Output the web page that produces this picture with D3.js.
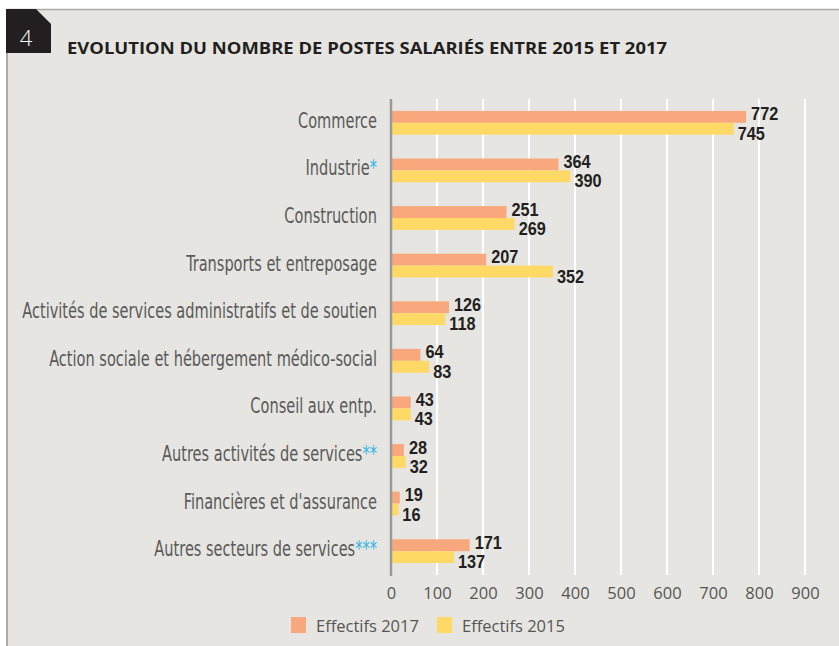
<!DOCTYPE html>
<html lang="fr">
<head>
<meta charset="utf-8">
<title>Evolution du nombre de postes salariés</title>
<script src="https://cdn.jsdelivr.net/npm/d3@7"></script>
<style>
  body { margin: 0; background: #fff; }
  .cat { font-family: "Liberation Sans Narrow", "DejaVu Sans Condensed", sans-serif; font-size: 21px; fill: #5a5a5a; }
  .note { fill: #2bb5e6; }
  .val { font-family: "Liberation Sans", Arial, sans-serif; font-weight: bold; font-size: 18.5px; fill: #231f20; }
  .tick text { font-family: "Open Sans", sans-serif; font-size: 16.5px; fill: #555; }
  .leg { font-family: "Open Sans", sans-serif; font-size: 16.5px; fill: #555; }
</style>
</head>
<body>
<script>
var categories = ["Commerce", "Industrie", "Construction", "Transports et entreposage",
  "Activités de services administratifs et de soutien", "Action sociale et hébergement médico-social",
  "Conseil aux entp.", "Autres activités de services", "Financières et d'assurance",
  "Autres secteurs de services"];
var notes = ["", "*", "", "", "", "", "", "**", "", "***"];
var eff2017 = [772, 364, 251, 207, 126, 64, 43, 28, 19, 171];
var eff2015 = [745, 390, 269, 352, 118, 83, 43, 32, 16, 137];
var tickValues = [0, 100, 200, 300, 400, 500, 600, 700, 800, 900];
var seriesNames = ["Effectifs 2017", "Effectifs 2015"];
var colors = ["#f8a87c", "#ffd966"];

var w = 839, h = 646;

var svg = d3.select("body").append("svg")
  .attr("width", w)
  .attr("height", h);

// panel
svg.append("rect").attr("x", 7).attr("y", 9).attr("width", w - 7).attr("height", h - 9).attr("fill", "#e6e5e1");
svg.append("line").attr("x1", 7).attr("x2", w).attr("y1", 9.5).attr("y2", 9.5).attr("stroke", "#a9a9a9").attr("stroke-width", 1.5);
svg.append("line").attr("x1", 7).attr("x2", 7).attr("y1", 9).attr("y2", h).attr("stroke", "#a9a9a9").attr("stroke-width", 2);

// tab
svg.append("path").attr("d", "M6,9 L36,9 L51,24 L51,53 L6,53 Z").attr("fill", "#231f20");
svg.append("text").attr("x", 26).attr("y", 46).attr("text-anchor", "middle")
  .style("font-family", "'Open Sans', sans-serif").style("font-size", "22px").style("font-weight", 300)
  .attr("fill", "#fff").text("4");

svg.append("text").attr("x", 67).attr("y", 54)
  .style("font-family", "'Open Sans', sans-serif").style("font-size", "16.5px").style("font-weight", "bold")
  .attr("fill", "#231f20")
  .attr("textLength", 600).attr("lengthAdjust", "spacingAndGlyphs")
  .text("EVOLUTION DU NOMBRE DE POSTES SALARIÉS ENTRE 2015 ET 2017");

var x = d3.scaleLinear().domain([0, 900]).range([391, 805]);
var y = d3.scaleBand().domain(categories).range([99, 575]).paddingInner(0.5).paddingOuter(0.25);
var bh = y.bandwidth() / 2;

// grid
svg.append("g").selectAll("line")
  .data(tickValues.slice(1))
  .enter().append("line")
  .attr("x1", function(d) { return x(d); })
  .attr("x2", function(d) { return x(d); })
  .attr("y1", 99).attr("y2", 575)
  .attr("stroke", "#fff").attr("stroke-width", 2);

// axis labels
var xAxis = d3.axisBottom(x).tickValues(tickValues).tickSize(0).tickPadding(0);
var ax = svg.append("g").attr("transform", "translate(0,587)").call(xAxis);
ax.select(".domain").remove();
ax.selectAll(".tick text").attr("dy", "0.71em").attr("y", 0);

// bars
var groups = svg.append("g").selectAll("g")
  .data(categories)
  .enter().append("g")
  .attr("transform", function(d) { return "translate(0," + y(d) + ")"; });

groups.append("rect")
  .attr("x", x(0)).attr("y", 0)
  .attr("width", function(d, i) { return x(eff2017[i]) - x(0); })
  .attr("height", bh).attr("fill", colors[0]);
groups.append("rect")
  .attr("x", x(0)).attr("y", bh)
  .attr("width", function(d, i) { return x(eff2015[i]) - x(0); })
  .attr("height", bh).attr("fill", colors[1]);

// value labels, a bit condensed
groups.append("text").attr("class", "val")
  .attr("transform", function(d, i) { return "translate(" + (x(eff2017[i]) + 5) + "," + (bh - 2.5) + ") scale(0.88,1)"; })
  .text(function(d, i) { return eff2017[i]; });
groups.append("text").attr("class", "val")
  .attr("transform", function(d, i) { return "translate(" + (x(eff2015[i]) + 4) + "," + (2 * bh + 5) + ") scale(0.88,1)"; })
  .text(function(d, i) { return eff2015[i]; });

// axis line
svg.append("line").attr("x1", 391).attr("x2", 391).attr("y1", 99).attr("y2", 576)
  .attr("stroke", "#9a9a9a").attr("stroke-width", 2.5);

// category labels, squeezed to the narrow look of the original
var labels = svg.append("g").selectAll("text")
  .data(categories)
  .enter().append("text")
  .attr("class", "cat")
  .attr("text-anchor", "end");
labels.append("tspan").text(function(d) { return d; });
labels.append("tspan").attr("class", "note").text(function(d, i) { return notes[i]; });

var longest = d3.max(labels.nodes(), function(n) { return n.getComputedTextLength(); });
var sx = 355 / longest;
labels.attr("transform", function(d) {
  return "translate(377," + (y(d) + y.bandwidth() / 2 + 5) + ") scale(" + sx + ",1)";
});

// legend
var leg = svg.append("g").selectAll("g")
  .data(seriesNames)
  .enter().append("g")
  .attr("transform", function(d, i) { return "translate(" + (291 + i * 146) + ",617)"; });
leg.append("rect").attr("width", 15).attr("height", 16).attr("fill", function(d, i) { return colors[i]; });
leg.append("text").attr("class", "leg").attr("x", 25).attr("y", 15).text(function(d) { return d; });
</script>
</body>
</html>
